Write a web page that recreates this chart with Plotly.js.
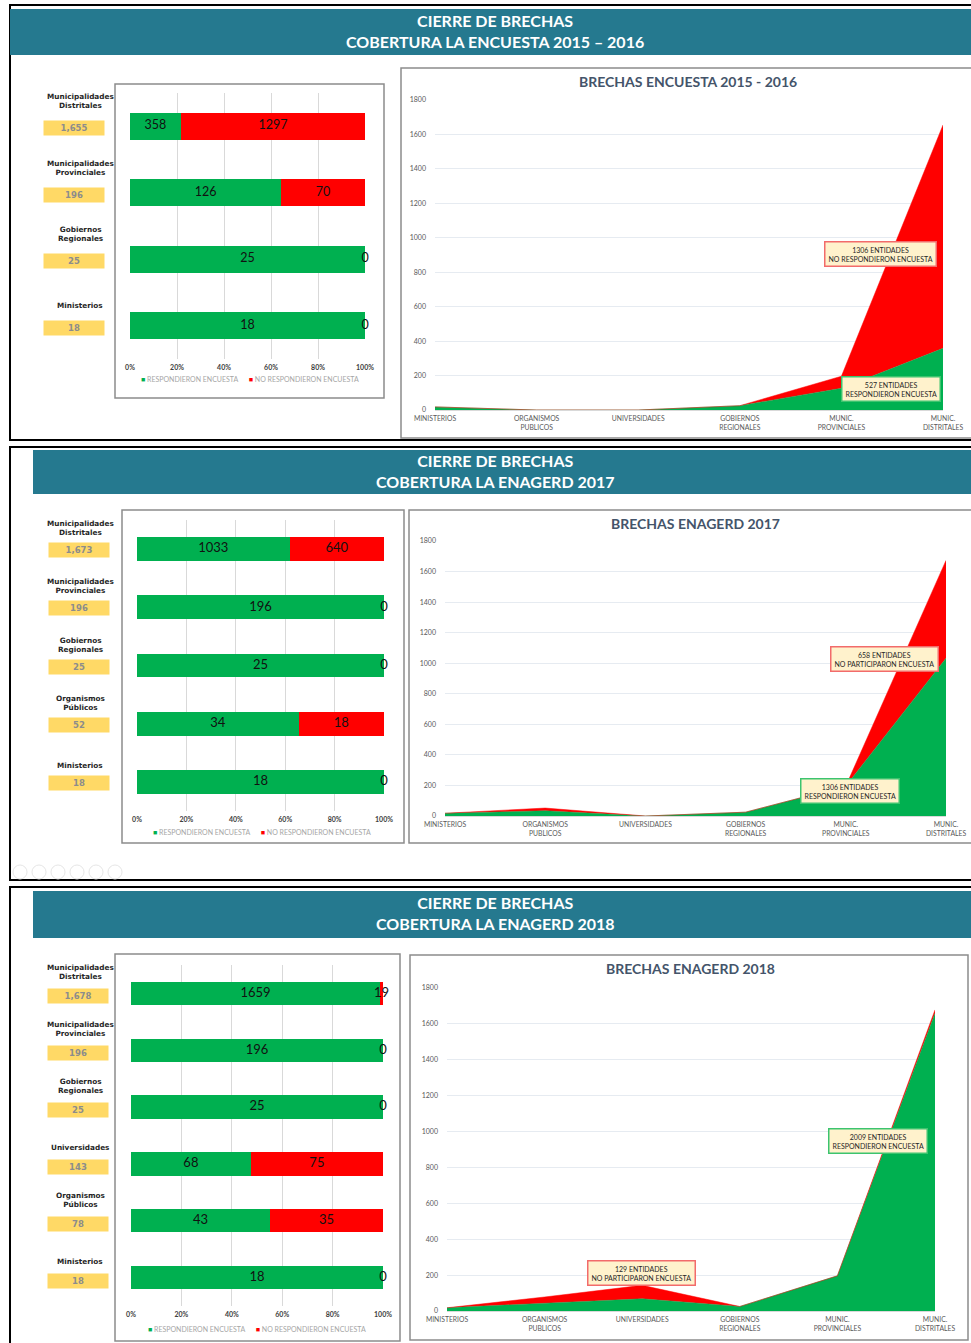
<!DOCTYPE html>
<html><head><meta charset="utf-8">
<script src="https://cdn.plot.ly/plotly-3.0.1.min.js"></script>
<style>html,body{margin:0;padding:0;background:#fff}#chart{width:971px;height:1343px}</style>
</head><body><div id="chart"></div>
<script>
// ---------------- DATA ----------------
const barCats2016 = ['Ministerios','Gobiernos Regionales','Municipalidades Provinciales','Municipalidades Distritales'];
const barResp2016 = [18, 25, 126, 358];
const barNoResp2016 = [0, 0, 70, 1297];

const barCats2017 = ['Ministerios','Organismos Públicos','Gobiernos Regionales','Municipalidades Provinciales','Municipalidades Distritales'];
const barResp2017 = [18, 34, 25, 196, 1033];
const barNoResp2017 = [0, 18, 0, 0, 640];

const barCats2018 = ['Ministerios','Organismos Públicos','Universidades','Gobiernos Regionales','Municipalidades Provinciales','Municipalidades Distritales'];
const barResp2018 = [18, 43, 68, 25, 196, 1659];
const barNoResp2018 = [0, 35, 75, 0, 0, 19];

const pctTicks = [0, 20, 40, 60, 80, 100];
const pctTickLabels = ['0%', '20%', '40%', '60%', '80%', '100%'];

const areaCats = ['MINISTERIOS','ORGANISMOS PUBLICOS','UNIVERSIDADES','GOBIERNOS REGIONALES','MUNIC. PROVINCIALES','MUNIC. DISTRITALES'];
const areaTickLabels = ['MINISTERIOS','ORGANISMOS<br>PUBLICOS','UNIVERSIDADES','GOBIERNOS<br>REGIONALES','MUNIC.<br>PROVINCIALES','MUNIC.<br>DISTRITALES'];
const areaResp2016 = [18, 0, 0, 25, 126, 358];
const areaNoResp2016 = [0, 0, 0, 0, 70, 1297];
const areaResp2017 = [18, 34, 0, 25, 196, 1033];
const areaNoResp2017 = [0, 18, 0, 0, 0, 640];
const areaResp2018 = [18, 43, 68, 25, 196, 1659];
const areaNoResp2018 = [0, 35, 75, 0, 0, 19];

const headerLine1 = 'CIERRE DE BRECHAS';
const headerLine2 = ['COBERTURA LA ENCUESTA 2015 – 2016', 'COBERTURA LA ENAGERD 2017', 'COBERTURA LA ENAGERD 2018'];
const areaTitles = ['BRECHAS ENCUESTA 2015 - 2016','BRECHAS ENAGERD 2017','BRECHAS ENAGERD 2018'];
const seriesNames = ['RESPONDIERON ENCUESTA','NO RESPONDIERON ENCUESTA'];
const notes = [
  [{t:'1306 ENTIDADES<br>NO RESPONDIERON ENCUESTA', x:4.38, y:906, c:'red'},
   {t:'527 ENTIDADES<br>RESPONDIERON ENCUESTA', x:4.49, y:122, c:'green'}],
  [{t:'658 ENTIDADES<br>NO PARTICIPARON ENCUESTA', x:4.39, y:1027, c:'red'},
   {t:'1306 ENTIDADES<br>RESPONDIERON ENCUESTA', x:4.04, y:164, c:'green'}],
  [{t:'2009 ENTIDADES<br>RESPONDIERON ENCUESTA', x:4.42, y:948, c:'green'},
   {t:'129 ENTIDADES<br>NO PARTICIPARON ENCUESTA', x:1.99, y:212, c:'red'}]
];

// ---------------- GEOMETRY / STYLE ----------------
const W = 971, H = 1343;
const X = p => p / W;
const Y = p => 1 - p / H;
const GREEN = '#00B050', RED = '#FF0000', TEAL = '#25798F';
const FONT = 'Lato, "Open Sans", sans-serif';
const LABFONT = '"DejaVu Sans", sans-serif';

const sets = [
  {cats:barCats2016, resp:barResp2016, no:barNoResp2016, aResp:areaResp2016, aNo:areaNoResp2016},
  {cats:barCats2017, resp:barResp2017, no:barNoResp2017, aResp:areaResp2017, aNo:areaNoResp2017},
  {cats:barCats2018, resp:barResp2018, no:barNoResp2018, aResp:areaResp2018, aNo:areaNoResp2018}
];
const geo = [
  {border:[10,5,975,440], header:[10,9,971,55], hY:31,
   barBox:[115,84,384,398], bar:[130,93,365,359], barFont:12.5, legendY:379, legendX:250,
   labX:80, labShift:14, callX:74, callShift:-2,
   areaBox:[401,68,975,438], area:[435,100,943,410], titleY:82, titleX:688},
  {border:[10,447,975,880], header:[33,450,971,494], hY:471,
   barBox:[122,510,404,843], bar:[137,520,384,811], barFont:13, legendY:832, legendX:262,
   labX:80, labShift:10, callX:79, callShift:-1,
   areaBox:[409,510,975,843], area:[445,541,946,816], titleY:523, titleX:695},
  {border:[10,887,975,1350], header:[33,891,971,938], hY:913,
   barBox:[115,954,400,1341], bar:[131,965,383,1306], barFont:13, legendY:1329, legendX:257,
   labX:80, labShift:10, callX:78, callShift:-3,
   areaBox:[410,955,968,1340], area:[447,988,935,1311], titleY:968, titleX:690}
];

const traces = [], shapes = [], annotations = [];
const layout = {
  width: W, height: H, margin:{l:0,r:0,t:0,b:0},
  paper_bgcolor:'#ffffff', plot_bgcolor:'rgba(0,0,0,0)',
  barmode:'stack', barnorm:'percent', bargap:0.59,
  font:{family:FONT, color:'#404040'},
  showlegend:false, hovermode:false
};

function rect(b, line, fill, w){
  shapes.push({type:'rect', xref:'paper', yref:'paper', layer:'below',
    x0:X(b[0]), x1:X(b[2]), y0:Y(b[3]), y1:Y(b[1]),
    line:{color:line||'rgba(0,0,0,0)', width:w||0}, fillcolor:fill||'rgba(0,0,0,0)'});
}

sets.forEach((s, k) => {
  const g = geo[k];
  const bi = 2*k+1, ai = 2*k+2;
  const bx = bi === 1 ? 'x' : 'x'+bi, by = bi === 1 ? 'y' : 'y'+bi;
  const ax = 'x'+ai, ay = 'y'+ai;

  // frames
  rect(g.border, '#000000', null, 2);
  rect(g.header, null, TEAL, 0);
  rect(g.barBox, '#8C8C8C', null, 1.5);
  rect(g.areaBox, '#8C8C8C', null, 1.5);

  annotations.push({xref:'paper', yref:'paper', x:X(495), y:Y(g.hY),
    text:'<b>'+headerLine1+'<br>'+headerLine2[k]+'</b>', showarrow:false,
    font:{family:FONT, size:16, color:'#ffffff'}, xanchor:'center', yanchor:'middle'});
  annotations.push({xref:'paper', yref:'paper', x:X(g.titleX), y:Y(g.titleY),
    text:'<b>'+areaTitles[k]+'</b>', showarrow:false, font:{family:FONT, size:14, color:'#44546A'}, xanchor:'center', yanchor:'middle'});

  // bar traces (100% stacked through barnorm)
  traces.push({type:'bar', orientation:'h', y:s.cats, x:s.resp, name:seriesNames[0],
    marker:{color:GREEN, line:{width:0}}, xaxis:bx, yaxis:by});
  traces.push({type:'bar', orientation:'h', y:s.cats, x:s.no, name:seriesNames[1],
    marker:{color:RED, line:{width:0}}, xaxis:bx, yaxis:by});

  // value labels, centred on each segment (positions derived from the data)
  const tot = s.resp.map((v, i) => v + s.no[i]);
  const tf = {family:FONT, size:g.barFont, color:'#111111'};
  traces.push({type:'scatter', mode:'text', y:s.cats, x:s.resp.map((v, i) => v / tot[i] * 50),
    text:s.resp.map(String), textposition:'middle center', textfont:tf, cliponaxis:false, xaxis:bx, yaxis:by});
  traces.push({type:'scatter', mode:'text', y:s.cats, x:s.no.map((v, i) => (s.resp[i] + v / 2) / tot[i] * 100),
    text:s.no.map(String), textposition:'middle center', textfont:tf, cliponaxis:false, xaxis:bx, yaxis:by});

  layout['xaxis'+(bi===1?'':bi)] = {domain:[X(g.bar[0]), X(g.bar[2])], anchor:by, range:[0,100],
    tickvals:pctTicks, ticktext:pctTickLabels, showgrid:true, gridcolor:'#D9D9D9', gridwidth:1,
    zeroline:false, showline:false, ticks:'', fixedrange:true, ticklabelstandoff:3,
    tickfont:{family:FONT, size:7, color:'#404040', weight:'bold'}};
  layout['yaxis'+(bi===1?'':bi)] = {domain:[Y(g.bar[3]), Y(g.bar[1])], anchor:bx, type:'category',
    categoryorder:'array', categoryarray:s.cats, range:[-0.5, s.cats.length-0.5],
    showticklabels:false, showgrid:false, zeroline:false, showline:false, fixedrange:true};

  // legend of the bar chart
  annotations.push({xref:'paper', yref:'paper', x:X(g.legendX), y:Y(g.legendY), xanchor:'center', yanchor:'middle',
    showarrow:false, font:{family:FONT, size:7, color:'#A6A6A6'},
    text:'<span style="color:'+GREEN+'">■</span> '+seriesNames[0]+'      <span style="color:'+RED+'">■</span> '+seriesNames[1]});

  // category labels + callouts
  s.cats.forEach((c, i) => {
    annotations.push({xref:'paper', yref:by, x:X(g.labX), y:c, yshift:g.labShift, yanchor:'bottom', xanchor:'center',
      text:'<b>'+c.replace(' ', '<br>')+'</b>', showarrow:false,
      font:{family:LABFONT, size:7.3, color:'#262626'}});
    annotations.push({xref:'paper', yref:by, x:X(g.callX), y:c, yshift:g.callShift, xanchor:'center', yanchor:'middle',
      text:'<b>'+tot[i].toLocaleString('en-US')+'</b>', showarrow:false, bgcolor:'#FFD966',
      width:60, height:14, borderpad:0,
      font:{family:LABFONT, size:8.5, color:'#8C8C8C'}});
  });

  // area traces
  traces.push({type:'scatter', mode:'lines', x:areaCats, y:s.aResp, stackgroup:'st'+k, name:seriesNames[0],
    fillcolor:GREEN, line:{color:GREEN, width:0.5}, xaxis:ax, yaxis:ay});
  traces.push({type:'scatter', mode:'lines', x:areaCats, y:s.aNo, stackgroup:'st'+k, name:seriesNames[1],
    fillcolor:RED, line:{color:RED, width:0.5}, xaxis:ax, yaxis:ay});

  layout['xaxis'+ai] = {domain:[X(g.area[0]), X(g.area[2])], anchor:ay, type:'category',
    categoryorder:'array', categoryarray:areaCats, range:[0,5], tickvals:areaCats, ticktext:areaTickLabels,
    tickfont:{family:FONT, size:6.8, color:'#595959'}, showgrid:false, showline:true, linecolor:'#D9D9D9',
    ticks:'', zeroline:false, fixedrange:true, ticklabelstandoff:2};
  layout['yaxis'+ai] = {domain:[Y(g.area[3]), Y(g.area[1])], anchor:ax, range:[0,1800], tick0:0, dtick:200,
    gridcolor:'#E6EBF1', zeroline:false, showline:false, ticks:'', ticklabelstandoff:8,
    tickfont:{family:FONT, size:7, color:'#595959'}, fixedrange:true};

  notes[k].forEach(n => {
    annotations.push({xref:ax, yref:ay, x:n.x, y:n.y, text:n.t, showarrow:false,
      bgcolor:'#FFF2CC', bordercolor:n.c === 'red' ? '#F26B6B' : '#3CC46E', borderwidth:1.5, borderpad:3,
      font:{family:FONT, size:7, color:'#262626'}, xanchor:'center', yanchor:'middle'});
  });
});

// faint slideshow controls under the second panel
[20,39,58,77,96,115].forEach(cx => {
  shapes.push({type:'circle', xref:'paper', yref:'paper', layer:'below',
    x0:X(cx-7), x1:X(cx+7), y0:Y(879), y1:Y(865), line:{color:'#E6E6E6', width:1}});
});

layout.shapes = shapes;
layout.annotations = annotations;

Plotly.newPlot('chart', traces, layout, {displayModeBar:false, staticPlot:true});
</script>
</body></html>
